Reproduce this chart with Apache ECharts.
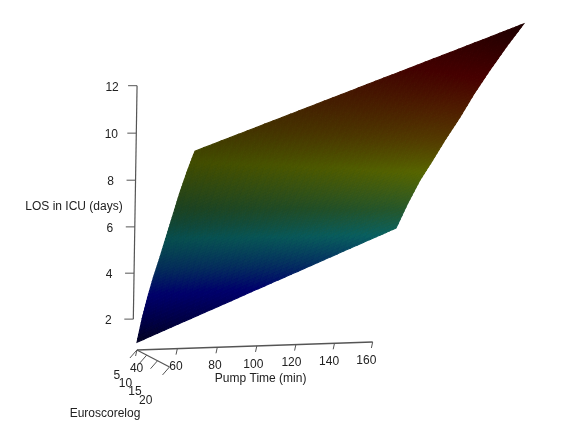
<!DOCTYPE html>
<html>
<head>
<meta charset="UTF-8">
<title>LOS in ICU</title>
<script src="https://cdn.jsdelivr.net/npm/echarts@6/dist/echarts.min.js"></script>
<style>html,body{margin:0;background:#fff}#chart{width:575px;height:443px}</style>
</head>
<body>
<div id="chart"></div>
<script>
// surface values: los[row for euro][column for pump]
var pumpGrid = [40, 60, 80, 100, 120, 140, 160, 170];
var euroGrid = [5, 7.5, 10, 12.5, 15, 17.5, 20, 22.5, 25, 27.5];
var los5 = [0.98, 1.72, 2.45, 3.19, 3.92, 4.66, 5.39, 5.76];
var los75 = [2.1, 2.83, 3.55, 4.28, 5.0, 5.73, 6.46, 6.82];
var los10 = [3.05, 3.77, 4.5, 5.22, 5.95, 6.67, 7.39, 7.75];
var los125 = [3.9, 4.61, 5.32, 6.02, 6.73, 7.44, 8.15, 8.5];
var los15 = [4.65, 5.36, 6.07, 6.78, 7.5, 8.21, 8.92, 9.28];
var los175 = [5.45, 6.15, 6.85, 7.55, 8.25, 8.95, 9.65, 10.0];
var los20 = [6.25, 6.95, 7.65, 8.35, 9.05, 9.75, 10.45, 10.8];
var los225 = [7.05, 7.73, 8.42, 9.1, 9.79, 10.47, 11.16, 11.5];
var los25 = [7.75, 8.42, 9.1, 9.78, 10.45, 11.13, 11.81, 12.15];
var los275 = [8.38, 9.05, 9.72, 10.39, 11.06, 11.73, 12.4, 12.74];
var los = [los5, los75, los10, los125, los15, los175, los20, los225, los25, los275];

var pumpTicks = [40, 60, 80, 100, 120, 140, 160];
var euroTicks = [5, 10, 15, 20];
var losTicks = [2, 4, 6, 8, 10, 12];
var pumpTitle = 'Pump Time (min)';
var euroTitle = 'Euroscorelog';
var losTitle = 'LOS in ICU (days)';

// colour ramp over LOS
var rampLos = [0.9, 2, 3.2, 4.3, 5.5, 6.6, 8.1, 9.2, 10.3, 11.3, 12.8];
var rampCol = [[5, 5, 30], [0, 0, 70], [0, 0, 108], [5, 50, 100], [10, 98, 98], [38, 88, 44],
    [88, 102, 0], [85, 62, 0], [80, 30, 0], [72, 0, 0], [30, 0, 0]];

var LOS_FLOOR = 0.64;
var Z_AXIS_PUMP = 38;
var FONT = '12px "Liberation Sans", Arial, sans-serif';
var INK = '#222';
var AXIS_COL = '#555';
var SUB = 6;

// persp style projection, fitted by eye to the axes in the picture
function project(pump, euro, val) {
    var p = (pump - 40) / 130, e = (euro - 5) / 22.5, L = val - 2;
    var w = 1 + 0.038 * p - 0.21 * e - 0.002 * L;
    return [
        (137.4 + 270.3 * p + 13.5 * e + 0.1 * L) / w,
        (319 + 4.3 * p - 51.6 * e - 23.5 * L) / w
    ];
}

// the picture is a bit dimmer towards low pump time once above the blue band
function colorOf(v, pump) {
    var i = 0;
    while (i < rampLos.length - 2 && v > rampLos[i + 1]) i++;
    var t = Math.max(0, Math.min(1, (v - rampLos[i]) / (rampLos[i + 1] - rampLos[i])));
    var a = rampCol[i], b = rampCol[i + 1];
    var dim = (1 - (pump - 40) / 130) * 0.25 * Math.max(0, Math.min(1, (v - 3) / 3));
    return 'rgb(' + [0, 1, 2].map(function (k) { return Math.round((a[k] + (b[k] - a[k]) * t) * (1 - dim)); }).join(',') + ')';
}

function cellPoint(api, i, j, u, v) {
    var p = pumpGrid[j] + (pumpGrid[j + 1] - pumpGrid[j]) * u;
    var e = euroGrid[i] + (euroGrid[i + 1] - euroGrid[i]) * v;
    var z = (los[i][j] * (1 - u) + los[i][j + 1] * u) * (1 - v) + (los[i + 1][j] * (1 - u) + los[i + 1][j + 1] * u) * v;
    return { xy: api.coord(project(p, e, z)), z: z, p: p };
}

function renderCell(params, api) {
    var i = api.value(0), j = api.value(1), kids = [];
    for (var a = 0; a < SUB; a++) {
        for (var b = 0; b < SUB; b++) {
            var c0 = cellPoint(api, i, j, b / SUB, a / SUB);
            var c1 = cellPoint(api, i, j, (b + 1) / SUB, a / SUB);
            var c2 = cellPoint(api, i, j, (b + 1) / SUB, (a + 1) / SUB);
            var c3 = cellPoint(api, i, j, b / SUB, (a + 1) / SUB);
            var col = colorOf((c0.z + c1.z + c2.z + c3.z) / 4, (c0.p + c1.p) / 2);
            kids.push({
                type: 'polygon',
                shape: { points: [c0.xy, c1.xy, c2.xy, c3.xy] },
                style: { fill: col, stroke: col, lineWidth: 1.1 }
            });
        }
    }
    return { type: 'group', children: kids };
}

function seg(a, b, width) {
    return {
        type: 'line',
        shape: { x1: a[0], y1: a[1], x2: b[0], y2: b[1] },
        style: { stroke: AXIS_COL, lineWidth: width || 1 }
    };
}

function label(str, x, y, align) {
    return {
        type: 'text',
        style: { text: str, x: x, y: y, font: FONT, fill: INK, textAlign: align || 'center', textVerticalAlign: 'middle' }
    };
}

function renderPumpTick(params, api) {
    var v = api.value(0);
    var a = api.coord(project(v, 5, LOS_FLOOR));
    var t = api.coord(project(40 + (v - 40) * 0.975, 5, LOS_FLOOR - 0.82));
    return { type: 'group', children: [seg(a, [a[0] - 1.3, a[1] + 6]), label(String(v), t[0], t[1])] };
}

function renderEuroTick(params, api) {
    var v = api.value(0);
    var a = api.coord(project(40, v, LOS_FLOOR));
    return { type: 'group', children: [
        seg(a, [a[0] - 7, a[1] + 8]),
        label(String(v), a[0] - 20 - (v - 5) * 0.25, a[1] + 26 + (v - 5) * 0.5)
    ] };
}

function renderLosTick(params, api) {
    var v = api.value(0);
    var a = api.coord(project(Z_AXIS_PUMP, 5, v));
    return { type: 'group', children: [seg(a, [a[0] - 9, a[1]]), label(String(v), a[0] - 25, a[1] + 1.5)] };
}

function renderAxisLines(params, api) {
    return {
        type: 'group',
        children: [
            seg(api.coord(project(40, 5, LOS_FLOOR)), api.coord(project(160, 5, LOS_FLOOR)), 1.5),
            seg(api.coord(project(40, 5, LOS_FLOOR)), api.coord(project(40, 20, LOS_FLOOR)), 1.2),
            seg(api.coord(project(Z_AXIS_PUMP, 5, 2)), api.coord(project(Z_AXIS_PUMP, 5, 12)), 1.2),
            label(pumpTitle, api.coord([260.6, 0])[0], api.coord([0, 379])[1]),
            label(euroTitle, api.coord([105, 0])[0], api.coord([0, 414])[1]),
            label(losTitle, api.coord([74, 0])[0], api.coord([0, 207])[1])
        ]
    };
}

var cells = [];
for (var i = 0; i < euroGrid.length - 1; i++) {
    for (var j = 0; j < pumpGrid.length - 1; j++) cells.push([i, j]);
}

var myChart = echarts.init(document.getElementById('chart'));
var base = { type: 'custom', silent: true, clip: false, animation: false };
myChart.setOption({
    backgroundColor: '#fff',
    animation: false,
    grid: { left: 0, right: 0, top: 0, bottom: 0 },
    xAxis: { type: 'value', min: 0, max: 575, show: false },
    yAxis: { type: 'value', min: 0, max: 443, inverse: true, show: false },
    series: [
        Object.assign({ name: 'surface', renderItem: renderCell, data: cells, encode: { x: 0, y: 1 } }, base),
        Object.assign({ name: 'axes', renderItem: renderAxisLines, data: [[0]] }, base),
        Object.assign({ name: 'pump ticks', renderItem: renderPumpTick, data: pumpTicks.map(function (v) { return [v]; }) }, base),
        Object.assign({ name: 'euro ticks', renderItem: renderEuroTick, data: euroTicks.map(function (v) { return [v]; }) }, base),
        Object.assign({ name: 'los ticks', renderItem: renderLosTick, data: losTicks.map(function (v) { return [v]; }) }, base)
    ]
});
</script>
</body>
</html>
